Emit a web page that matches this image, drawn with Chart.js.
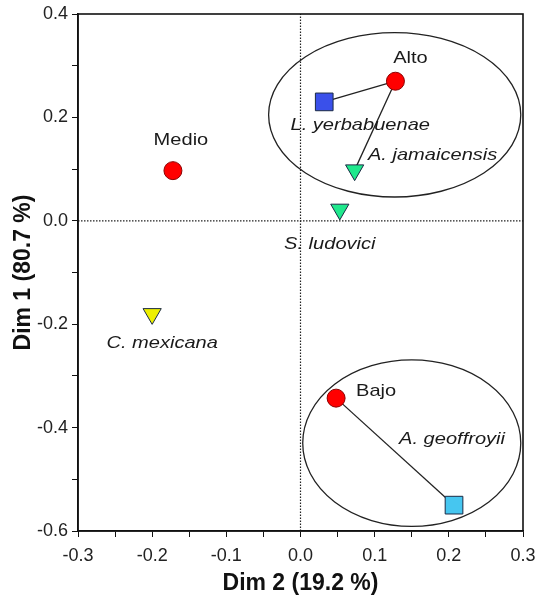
<!DOCTYPE html>
<html>
<head>
<meta charset="utf-8">
<script src="https://cdn.jsdelivr.net/npm/chart.js@4/dist/chart.umd.min.js"></script>
<style>
  html, body { margin: 0; padding: 0; background: #fff; }
  #wrap { width: 539px; height: 598px; }
</style>
</head>
<body>
<div id="wrap"><canvas id="chart-area" width="539" height="598"></canvas></div>
<script>
(function () {
    'use strict';

    // habitat (red circles)
    var habitatNames = ['Alto', 'Medio', 'Bajo'];
    var habitatX = [0.128, -0.172, 0.048];
    var habitatY = [0.270, 0.097, -0.343];

    // species
    var speciesNames = ['L. yerbabuenae', 'A. jamaicensis', 'S. ludovici', 'C. mexicana', 'A. geoffroyii'];
    var speciesX = [0.032, 0.073, 0.053, -0.200, 0.207];
    var speciesY = [0.230, 0.098, 0.022, -0.180, -0.550];
    var speciesShape = ['rect', 'triangle', 'triangle', 'triangle', 'rect'];
    var speciesColor = ['#3a50ea', '#1fe88c', '#1fe88c', '#eef000', '#46c6f0'];

    // links habitat index -> species index
    var links = [[0, 0], [0, 1], [2, 4]];

    // ellipses: center x, center y, radius x, radius y
    var ellipseCX = [0.127, 0.150];
    var ellipseCY = [0.205, -0.430];
    var ellipseRX = [0.170, 0.147];
    var ellipseRY = [0.159, 0.161];

    var xTicks = [-0.3, -0.2, -0.1, 0.0, 0.1, 0.2, 0.3];
    var yTicks = [-0.6, -0.4, -0.2, 0.0, 0.2, 0.4];

    var font = '"Liberation Sans", Arial, sans-serif';

    // label offsets in pixels: dx, dy (text center)
    var habitatLabelPos = [[15, -23], [8, -30], [40, -7]];
    var speciesLabelPos = [[36, 23], [78, -15], [-10, 35], [10, 29], [-2, -66]];

    var datasets = [];

    // dotted zero lines
    datasets.push({
        type: 'line', data: [{x: -0.3, y: 0}, {x: 0.3, y: 0}],
        borderColor: '#222', borderWidth: 1.2, borderDash: [1.5, 1.5], pointRadius: 0, order: 10
    });
    datasets.push({
        type: 'line', data: [{x: 0, y: -0.6}, {x: 0, y: 0.4}],
        borderColor: '#222', borderWidth: 1.2, borderDash: [1.5, 1.5], pointRadius: 0, order: 10
    });

    links.forEach(function (l) {
        datasets.push({
            type: 'line',
            data: [{x: habitatX[l[0]], y: habitatY[l[0]]}, {x: speciesX[l[1]], y: speciesY[l[1]]}],
            borderColor: '#222', borderWidth: 1.3, pointRadius: 0, order: 5
        });
    });

    speciesNames.forEach(function (name, i) {
        var isTri = speciesShape[i] === 'triangle';
        datasets.push({
            type: 'scatter',
            data: [{x: speciesX[i], y: speciesY[i]}],
            pointStyle: speciesShape[i],
            pointRotation: isTri ? 180 : 0,
            pointRadius: isTri ? 10.5 : 12.5,
            backgroundColor: speciesColor[i],
            borderColor: '#1a2a44',
            borderWidth: 1,
            order: 1
        });
    });

    datasets.push({
        type: 'scatter',
        data: habitatX.map(function (x, i) { return {x: x, y: habitatY[i]}; }),
        pointStyle: 'circle',
        pointRadius: 9,
        backgroundColor: '#ff0000',
        borderColor: '#8a0000',
        borderWidth: 1,
        order: 0
    });

    function drawLabel(ctx, text, x, y) {
        ctx.save();
        ctx.translate(x, y);
        ctx.scale(1.18, 1);
        ctx.fillText(text, 0, 0);
        ctx.restore();
    }

    var decor = {
        id: 'decor',
        beforeDatasetsDraw: function (chart) {
            var ctx = chart.ctx, xs = chart.scales.x, ys = chart.scales.y;
            ctx.save();
            ctx.strokeStyle = '#222';
            ctx.lineWidth = 1.3;
            for (var i = 0; i < ellipseCX.length; i++) {
                var cx = xs.getPixelForValue(ellipseCX[i]);
                var cy = ys.getPixelForValue(ellipseCY[i]);
                var rx = Math.abs(xs.getPixelForValue(ellipseCX[i] + ellipseRX[i]) - cx);
                var ry = Math.abs(ys.getPixelForValue(ellipseCY[i] + ellipseRY[i]) - cy);
                ctx.beginPath();
                ctx.ellipse(cx, cy, rx, ry, 0, 0, Math.PI * 2);
                ctx.stroke();
            }
            ctx.restore();
        },
        afterDraw: function (chart) {
            var ctx = chart.ctx, a = chart.chartArea, xs = chart.scales.x, ys = chart.scales.y;
            ctx.save();
            // frame
            ctx.strokeStyle = '#111';
            ctx.lineWidth = 1.6;
            ctx.strokeRect(a.left, a.top, a.right - a.left, a.bottom - a.top);

            ctx.fillStyle = '#1a1a1a';
            ctx.textAlign = 'center';
            ctx.textBaseline = 'middle';
            ctx.font = '17px ' + font;
            habitatNames.forEach(function (n, i) {
                var p = habitatLabelPos[i];
                drawLabel(ctx, n, xs.getPixelForValue(habitatX[i]) + p[0], ys.getPixelForValue(habitatY[i]) + p[1]);
            });
            ctx.font = 'italic 17px ' + font;
            speciesNames.forEach(function (n, i) {
                var p = speciesLabelPos[i];
                drawLabel(ctx, n, xs.getPixelForValue(speciesX[i]) + p[0], ys.getPixelForValue(speciesY[i]) + p[1]);
            });
            ctx.restore();
        }
    };

    function isMajor(v, list) {
        return list.some(function (t) { return Math.abs(t - v) < 1e-6; });
    }

    var ctx = document.getElementById('chart-area').getContext('2d');
    window.myScatter = new Chart(ctx, {
        type: 'scatter',
        data: { datasets: datasets },
        plugins: [decor],
        options: {
            responsive: false,
            animation: false,
            layout: { padding: { top: 14, right: 16, left: 0, bottom: 0 } },
            plugins: { legend: { display: false }, tooltip: { enabled: false } },
            scales: {
                x: {
                    type: 'linear', min: -0.3, max: 0.3,
                    afterFit: function (s) { s.height = 67; s.paddingLeft = 0; s.paddingRight = 0; },
                    ticks: {
                        stepSize: 0.05, autoSkip: false, maxRotation: 0,
                        color: '#222', font: { family: font, size: 18 }, padding: 8,
                        callback: function (v) { return isMajor(v, xTicks) ? v.toFixed(1) : ''; }
                    },
                    grid: { drawOnChartArea: false, tickLength: 6, color: '#111', tickColor: '#111' },
                    border: { color: '#111', width: 1.6 },
                    title: { display: true, text: 'Dim 2 (19.2 %)', color: '#111', font: { family: font, size: 23, weight: 'bold' }, padding: { top: 0, bottom: 1 } }
                },
                y: {
                    type: 'linear', min: -0.6, max: 0.4,
                    afterFit: function (s) { s.width = 78; s.paddingTop = 0; s.paddingBottom = 0; },
                    ticks: {
                        stepSize: 0.1, autoSkip: false,
                        color: '#222', font: { family: font, size: 18 }, padding: 4,
                        callback: function (v) { return isMajor(v, yTicks) ? v.toFixed(1) : ''; }
                    },
                    grid: { drawOnChartArea: false, tickLength: 6, color: '#111', tickColor: '#111' },
                    border: { color: '#111', width: 1.6 },
                    title: { display: true, text: 'Dim 1 (80.7 %)', color: '#111', font: { family: font, size: 23, weight: 'bold' }, padding: { top: 10, bottom: 0 } }
                }
            }
        }
    });
})();
</script>
</body>
</html>
